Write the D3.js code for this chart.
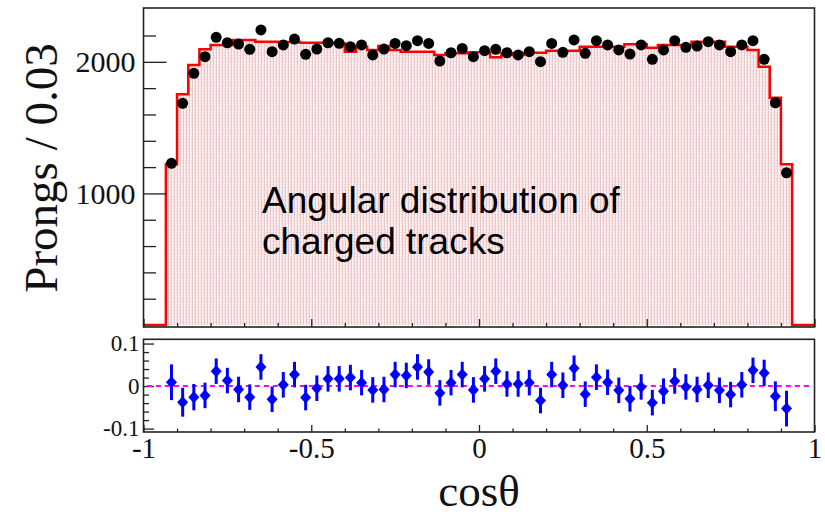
<!DOCTYPE html>
<html>
<head>
<meta charset="utf-8">
<script src="https://cdn.jsdelivr.net/npm/d3@7"></script>
<style>
  body { margin: 0; background: #fff; }
  svg { display: block; }
</style>
</head>
<body>
<div id="chart"></div>
<script>
// histogram definition: 56 bins of 1/30 in cos(theta)
var histRange = [-0.9333, 0.9333];
var nBins = 56;

// data counts (black points)
var dataCounts = [
  1229, 1685, 1913, 2039, 2186, 2145, 2135, 2095, 2242, 2077,
  2128, 2173, 2057, 2097, 2145, 2141, 2115, 2128, 2052, 2097,
  2140, 2123, 2161, 2140, 2006, 2069, 2102, 2039, 2085, 2095,
  2069, 2052, 2077, 2001, 2140, 2072, 2166, 2065, 2161, 2128,
  2090, 2059, 2128, 2019, 2090, 2161, 2110, 2120, 2153, 2128,
  2077, 2128, 2161, 2019, 1689, 1157
];

// MC histogram (red line)
var mcCounts = [
  1221, 1753, 1976, 2095, 2128, 2128, 2166, 2166, 2153, 2153,
  2150, 2150, 2145, 2145, 2145, 2140, 2077, 2115, 2090, 2120,
  2090, 2077, 2077, 2077, 2052, 2065, 2065, 2072, 2072, 2034,
  2065, 2052, 2069, 2069, 2085, 2085, 2085, 2115, 2115, 2115,
  2115, 2133, 2133, 2107, 2128, 2128, 2128, 2153, 2153, 2153,
  2115, 2115, 2090, 1963, 1727, 1221
];

// (data - MC) / MC (blue points) and their errors
var ratio = [
  0.009, -0.038, -0.026, -0.022, 0.035, 0.013, -0.008, -0.026, 0.045, -0.031,
  0.003, 0.027, -0.027, -0.005, 0.017, 0.017, 0.020, 0.008, -0.009, -0.008,
  0.027, 0.025, 0.045, 0.033, -0.016, 0.008, 0.027, -0.009, 0.017, 0.035,
  0.005, 0.005, 0.008, -0.034, 0.027, 0.002, 0.042, -0.019, 0.021, 0.009,
  -0.010, -0.030, -0.002, -0.039, -0.012, 0.012, -0.002, -0.008, 0.002, -0.010,
  -0.020, 0.003, 0.037, 0.031, -0.024, -0.053
];
var ratioErr = [
  0.042, 0.034, 0.031, 0.030, 0.030, 0.030, 0.030, 0.030, 0.030, 0.030,
  0.030, 0.030, 0.030, 0.030, 0.030, 0.030, 0.030, 0.030, 0.030, 0.030,
  0.030, 0.030, 0.030, 0.030, 0.030, 0.030, 0.030, 0.030, 0.030, 0.030,
  0.030, 0.030, 0.030, 0.030, 0.030, 0.030, 0.030, 0.030, 0.030, 0.030,
  0.030, 0.030, 0.030, 0.030, 0.030, 0.030, 0.030, 0.030, 0.030, 0.030,
  0.030, 0.030, 0.030, 0.031, 0.035, 0.042
];

// axis ticks
var xMajor = [-1, -0.5, 0, 0.5, 1];
var xMinor = [-0.9, -0.8, -0.7, -0.6, -0.4, -0.3, -0.2, -0.1, 0.1, 0.2, 0.3, 0.4, 0.6, 0.7, 0.8, 0.9];
var yTopMajor = [1000, 2000];
var yTopMinor = [200, 400, 600, 800, 1200, 1400, 1600, 1800, 2200];
var yBotMajor = [-0.1, 0, 0.1];
var yBotMinor = [-0.08, -0.06, -0.04, -0.02, 0.02, 0.04, 0.06, 0.08];
var refLine = [-0.99, 0.985];

var yTitle = 'Prongs / 0.03';
var xTitle = 'cos\u03b8';
var note = ['Angular distribution of', 'charged tracks'];

var svg = d3.select('#chart')
  .append('svg')
  .attr('width', 825)
  .attr('height', 516);

var x = d3.scaleLinear().domain([-1, 1]).range([143.5, 814.5]);
var yTop = d3.scaleLinear().domain([-15, 2409]).range([327, 8]);
var yBot = d3.scaleLinear().domain([-0.108, 0.11]).range([432, 339.3]);

var binW = (histRange[1] - histRange[0]) / nBins;
var centers = d3.range(nBins).map(function (i) { return histRange[0] + (i + 0.5) * binW; });

// fill pattern
var pat = svg.append('defs').append('pattern')
  .attr('id', 'dots')
  .attr('patternUnits', 'userSpaceOnUse')
  .attr('width', 3)
  .attr('height', 3);
pat.append('rect').attr('width', 3).attr('height', 3).attr('fill', '#fcefef');
pat.append('rect').attr('width', 1).attr('height', 3).attr('fill', '#eec6ca');
pat.append('rect').attr('x', 2).attr('y', 1).attr('width', 1).attr('height', 1).attr('fill', '#f1d2d5');

// step outline of the MC histogram
var steps = [];
mcCounts.forEach(function (v, i) {
  steps.push([histRange[0] + i * binW, v]);
  steps.push([histRange[0] + (i + 1) * binW, v]);
});

var area = d3.area()
  .x(function (d) { return x(d[0]); })
  .y0(yTop(0))
  .y1(function (d) { return yTop(d[1]); });

svg.append('path')
  .datum(steps)
  .attr('d', area)
  .attr('fill', 'url(#dots)');

var outline = [[-1, 0], [histRange[0], 0]].concat(steps, [[histRange[1], 0], [1, 0]]);
var line = d3.line()
  .x(function (d) { return x(d[0]); })
  .y(function (d) { return yTop(d[1]); });

svg.append('path')
  .datum(outline)
  .attr('d', line)
  .attr('fill', 'none')
  .attr('stroke', '#ff0000')
  .attr('stroke-width', 2.5);

// data points
svg.append('g')
  .selectAll('circle')
  .data(dataCounts)
  .enter().append('circle')
  .attr('cx', function (d, i) { return x(centers[i]); })
  .attr('cy', function (d) { return yTop(d); })
  .attr('r', 5.5)
  .attr('fill', '#000');

// frames
svg.append('rect')
  .attr('x', x(-1)).attr('y', yTop(2409))
  .attr('width', x(1) - x(-1)).attr('height', yTop(-15) - yTop(2409))
  .attr('fill', 'none').attr('stroke', '#222').attr('stroke-width', 1.6);
svg.append('rect')
  .attr('x', x(-1)).attr('y', yBot(0.11))
  .attr('width', x(1) - x(-1)).attr('height', yBot(-0.108) - yBot(0.11))
  .attr('fill', 'none').attr('stroke', '#222').attr('stroke-width', 1.6);

var styleAxis = function (g, size) {
  g.select('.domain').remove();
  g.selectAll('line').attr('stroke', '#222').attr('stroke-width', 1.3);
  g.selectAll('text')
    .attr('fill', '#111')
    .style('font-family', '"Liberation Serif", "DejaVu Serif", serif')
    .style('font-size', size + 'px');
};

// top panel y axis
svg.append('g')
  .attr('transform', 'translate(' + x(-1) + ',0)')
  .call(d3.axisLeft(yTop).tickValues(yTopMinor).tickSize(-12.5).tickFormat(''))
  .call(styleAxis, 30);
svg.append('g')
  .attr('transform', 'translate(' + x(-1) + ',0)')
  .call(d3.axisLeft(yTop).tickValues(yTopMajor).tickSize(-23).tickPadding(8).tickFormat(d3.format('d')))
  .call(styleAxis, 30);

// top panel x ticks (no labels)
svg.append('g')
  .attr('transform', 'translate(0,' + yTop(-15) + ')')
  .call(d3.axisBottom(x).tickValues(xMinor).tickSize(-4).tickFormat(''))
  .call(styleAxis, 30);
svg.append('g')
  .attr('transform', 'translate(0,' + yTop(-15) + ')')
  .call(d3.axisBottom(x).tickValues(xMajor).tickSize(-8).tickFormat(''))
  .call(styleAxis, 30);

// bottom panel y axis
svg.append('g')
  .attr('transform', 'translate(' + x(-1) + ',0)')
  .call(d3.axisLeft(yBot).tickValues(yBotMinor).tickSize(-5.5).tickFormat(''))
  .call(styleAxis, 23);
svg.append('g')
  .attr('transform', 'translate(' + x(-1) + ',0)')
  .call(d3.axisLeft(yBot).tickValues(yBotMajor).tickSize(-10.5).tickPadding(4).tickFormat(function (d) { return String(d); }))
  .call(styleAxis, 23);

// bottom panel x axis
svg.append('g')
  .attr('transform', 'translate(0,' + yBot(-0.108) + ')')
  .call(d3.axisBottom(x).tickValues(xMinor).tickSize(-3.5).tickFormat(''))
  .call(styleAxis, 29);
svg.append('g')
  .attr('transform', 'translate(0,' + yBot(-0.108) + ')')
  .call(d3.axisBottom(x).tickValues(xMajor).tickSize(-7).tickPadding(5).tickFormat(function (d) { return String(d); }))
  .call(styleAxis, 29);

// reference line at zero
svg.append('line')
  .attr('x1', x(refLine[0])).attr('x2', x(refLine[1]))
  .attr('y1', yBot(0)).attr('y2', yBot(0))
  .attr('stroke', '#ff00ff')
  .attr('stroke-width', 2)
  .attr('stroke-dasharray', '5,4');

// ratio points with error bars
var rp = svg.append('g')
  .selectAll('g')
  .data(ratio)
  .enter().append('g')
  .attr('transform', function (d, i) { return 'translate(' + x(centers[i]) + ',' + yBot(d) + ')'; });

rp.append('line')
  .attr('y1', function (d, i) { return yBot(d + ratioErr[i]) - yBot(d); })
  .attr('y2', function (d, i) { return yBot(d - ratioErr[i]) - yBot(d); })
  .attr('stroke', '#0000ff')
  .attr('stroke-width', 3);

rp.append('path')
  .attr('d', 'M0,-6L5.5,0L0,6L-5.5,0Z')
  .attr('fill', '#0000ff');

// titles
svg.append('text')
  .attr('transform', 'translate(57,168) rotate(-90)')
  .attr('text-anchor', 'middle')
  .style('font-family', '"Liberation Serif", "DejaVu Serif", serif')
  .style('font-size', '47px')
  .attr('fill', '#111')
  .text(yTitle);

svg.append('text')
  .attr('x', 479)
  .attr('y', 506)
  .attr('text-anchor', 'middle')
  .style('font-family', '"Liberation Serif", "DejaVu Serif", serif')
  .style('font-size', '45px')
  .attr('fill', '#111')
  .text(xTitle);

svg.append('g')
  .selectAll('text')
  .data(note)
  .enter().append('text')
  .attr('x', 262)
  .attr('y', function (d, i) { return 213 + i * 41; })
  .style('font-family', '"Liberation Sans", Arial, sans-serif')
  .style('font-size', '37px')
  .attr('fill', '#000')
  .text(function (d) { return d; });
</script>
</body>
</html>
